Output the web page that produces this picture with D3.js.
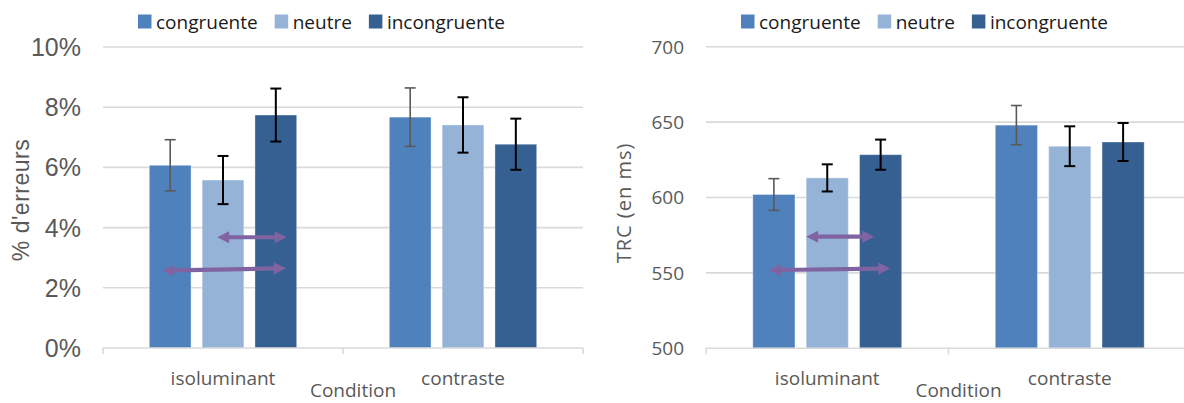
<!DOCTYPE html>
<meta charset="utf-8">
<style>
body { margin: 0; background: #fff; }
.grid line { stroke: #d9d9d9; stroke-width: 1.6; }
.tick-label { fill: #595959; }
.cat-label, .x-title, .y-title { fill: #595959; font-family: "Open Sans", sans-serif; font-size: 19px; }
.legend text { fill: #1a1a1a; font-family: "Open Sans", sans-serif; font-size: 19px; }
</style>
<body>
<script src="https://d3js.org/d3.v7.min.js"></script>
<script>
var width = 1184, height = 403;

var categories = ["isoluminant", "contraste"];
var series = ["congruente", "neutre", "incongruente"];
var colors = ["#4F81BD", "#95B3D7", "#366092"];
var errColors = ["#595959", "#000", "#000"];

// % d'erreurs, [categorie][serie]
var errMeans = [[6.07, 5.58, 7.74], [7.67, 7.41, 6.77]];
var errSE = [[0.85, 0.80, 0.88], [0.97, 0.92, 0.85]];
var errTicks = [0, 2, 4, 6, 8, 10];

// TRC (en ms)
var rtMeans = [[602, 613, 628.4], [648, 634, 636.8]];
var rtSE = [[10.5, 9, 10], [13, 13.2, 12.6]];
var rtTicks = [500, 550, 600, 650, 700];

// double arrows : [categorie, serie de depart, fraction, serie d'arrivee, fraction, y depart, y arrivee]
var errArrows = [
  ["isoluminant", "neutre", 0.36, "incongruente", 0.76, 3.68, 3.68],
  ["isoluminant", "congruente", 0.30, "incongruente", 0.74, 2.57, 2.65]
];
var rtArrows = [
  ["isoluminant", "neutre", 0.0, "incongruente", 0.35, 574, 574],
  ["isoluminant", "congruente", 0.38, "incongruente", 0.73, 551.8, 553]
];

var svg = d3.select("body").append("svg")
  .attr("width", width)
  .attr("height", height);

function chart(opt) {
  var x0 = d3.scaleBand().domain(categories).range(opt.xRange);
  var x1 = d3.scaleBand().domain(series).range([0, x0.bandwidth()])
    .paddingInner(0.21).paddingOuter(0.877);
  var y = d3.scaleLinear().domain(opt.domain).range(opt.yRange);

  var g = svg.append("g");

  // grid lines
  g.append("g").attr("class", "grid")
    .selectAll("line")
    .data(opt.ticks.slice(1))
    .enter().append("line")
    .attr("x1", opt.xRange[0]).attr("x2", opt.xRange[1])
    .attr("y1", function(d) { return y(d); })
    .attr("y2", function(d) { return y(d); });

  // tick labels
  g.selectAll(".tick-label")
    .data(opt.ticks)
    .enter().append("text")
    .attr("class", "tick-label")
    .attr("x", opt.xRange[0] - 22)
    .attr("y", function(d) { return y(d); })
    .attr("dy", "0.36em")
    .attr("text-anchor", "end")
    .style("font-family", opt.tickFont)
    .style("font-size", opt.tickSize)
    .text(opt.fmt);

  // bars
  var groups = g.selectAll(".cat")
    .data(categories)
    .enter().append("g")
    .attr("transform", function(d) { return "translate(" + x0(d) + ",0)"; });

  groups.selectAll("rect")
    .data(function(c, i) {
      return series.map(function(s, j) {
        return { s: s, j: j, v: opt.means[i][j], e: opt.se[i][j] };
      });
    })
    .enter().append("rect")
    .attr("x", function(d) { return x1(d.s); })
    .attr("width", x1.bandwidth())
    .attr("y", function(d) { return y(d.v); })
    .attr("height", function(d) { return y(opt.domain[0]) - y(d.v); })
    .attr("fill", function(d) { return colors[d.j]; })
    .attr("stroke", "rgba(255,255,255,0.35)")
    .attr("stroke-width", 1);

  // baseline axis with ticks
  var axis = g.append("g").attr("class", "grid");
  axis.append("line")
    .attr("x1", opt.xRange[0]).attr("x2", opt.xRange[1])
    .attr("y1", y(opt.domain[0])).attr("y2", y(opt.domain[0]));
  var edges = categories.map(function(c) { return x0(c); }).concat([opt.xRange[1]]);
  axis.selectAll(".edge")
    .data(edges)
    .enter().append("line")
    .attr("x1", function(d) { return d; }).attr("x2", function(d) { return d; })
    .attr("y1", y(opt.domain[0])).attr("y2", y(opt.domain[0]) + 6);

  // error bars
  var eb = groups.selectAll(".err")
    .data(function(c, i) {
      return series.map(function(s, j) {
        return { s: s, j: j, v: opt.means[i][j], e: opt.se[i][j] };
      });
    })
    .enter().append("g")
    .attr("stroke", function(d) { return errColors[d.j]; })
    .attr("stroke-width", function(d) { return d.j === 0 ? 1.6 : 2; });
  eb.append("line")
    .attr("x1", function(d) { return x1(d.s) + x1.bandwidth() / 2; })
    .attr("x2", function(d) { return x1(d.s) + x1.bandwidth() / 2; })
    .attr("y1", function(d) { return y(d.v + d.e); })
    .attr("y2", function(d) { return y(d.v - d.e); });
  [1, -1].forEach(function(sign) {
    eb.append("line")
      .attr("x1", function(d) { return x1(d.s) + x1.bandwidth() / 2 - 5.5; })
      .attr("x2", function(d) { return x1(d.s) + x1.bandwidth() / 2 + 5.5; })
      .attr("y1", function(d) { return y(d.v + sign * d.e); })
      .attr("y2", function(d) { return y(d.v + sign * d.e); });
  });

  // double arrows
  opt.arrows.forEach(function(a) {
    var xa = x0(a[0]) + x1(a[1]) + a[2] * x1.bandwidth();
    var xb = x0(a[0]) + x1(a[3]) + a[4] * x1.bandwidth();
    var ya = y(a[5]), yb = y(a[6]);
    var len = Math.hypot(xb - xa, yb - ya), ang = Math.atan2(yb - ya, xb - xa) * 180 / Math.PI;
    var h = 12, w = 6, t = 2.1;
    var p = d3.path();
    p.moveTo(0, 0); p.lineTo(h, -w); p.lineTo(h, -t); p.lineTo(len - h, -t);
    p.lineTo(len - h, -w); p.lineTo(len, 0); p.lineTo(len - h, w); p.lineTo(len - h, t);
    p.lineTo(h, t); p.lineTo(h, w); p.closePath();
    g.append("path")
      .attr("d", p.toString())
      .attr("fill", "#8064A2")
      .attr("transform", "translate(" + xa + "," + ya + ") rotate(" + ang + ")");
  });

  // category labels
  g.selectAll(".cat-label")
    .data(categories)
    .enter().append("text")
    .attr("class", "cat-label")
    .attr("x", function(d) { return x0(d) + x0.bandwidth() / 2; })
    .attr("y", 385)
    .attr("text-anchor", "middle")
    .text(function(d) { return d; });

  g.append("text").attr("class", "x-title")
    .attr("x", (opt.xRange[0] + opt.xRange[1]) / 2 + 10)
    .attr("y", 397)
    .attr("text-anchor", "middle")
    .text("Condition");

  g.append("text").attr("class", "y-title")
    .attr("transform", "translate(" + opt.yTitle[0] + "," + opt.yTitle[1] + ") rotate(-90)")
    .attr("text-anchor", "middle")
    .attr("dy", "0.35em")
    .style("font-family", opt.yTitleFont)
    .style("font-size", opt.yTitleSize)
    .style("letter-spacing", opt.yTitleSpacing)
    .text(opt.yTitleText);

  // legend
  var lg = g.append("g").attr("class", "legend");
  var lx = opt.legendX;
  series.forEach(function(s, j) {
    lg.append("rect").attr("x", lx).attr("y", 14.5).attr("width", 13.5).attr("height", 14)
      .attr("fill", colors[j]);
    var t = lg.append("text").attr("x", lx + 18).attr("y", 29).text(s);
    lx += 18 + t.node().getComputedTextLength() + 17;
  });
}

chart({
  xRange: [103, 583], yRange: [348, 47], domain: [0, 10], ticks: errTicks,
  means: errMeans, se: errSE, arrows: errArrows,
  fmt: function(d) { return d + "%"; },
  tickFont: "'Liberation Sans Narrow', 'Liberation Sans', Arial, sans-serif", tickSize: "25px",
  yTitle: [21, 200], yTitleText: "% d'erreurs",
  yTitleFont: "'Liberation Sans Narrow', 'Liberation Sans', Arial, sans-serif", yTitleSize: "23px",
  yTitleSpacing: "0.5px",
  legendX: 138
});

chart({
  xRange: [706, 1191], yRange: [348.3, 46.7], domain: [500, 700], ticks: rtTicks,
  means: rtMeans, se: rtSE, arrows: rtArrows,
  fmt: function(d) { return d; },
  tickFont: "'Open Sans', sans-serif", tickSize: "19px",
  yTitle: [624, 203], yTitleText: "TRC (en ms)",
  yTitleFont: "'Open Sans', sans-serif", yTitleSize: "20px", yTitleSpacing: "1px",
  legendX: 741
});
</script>
</body>
